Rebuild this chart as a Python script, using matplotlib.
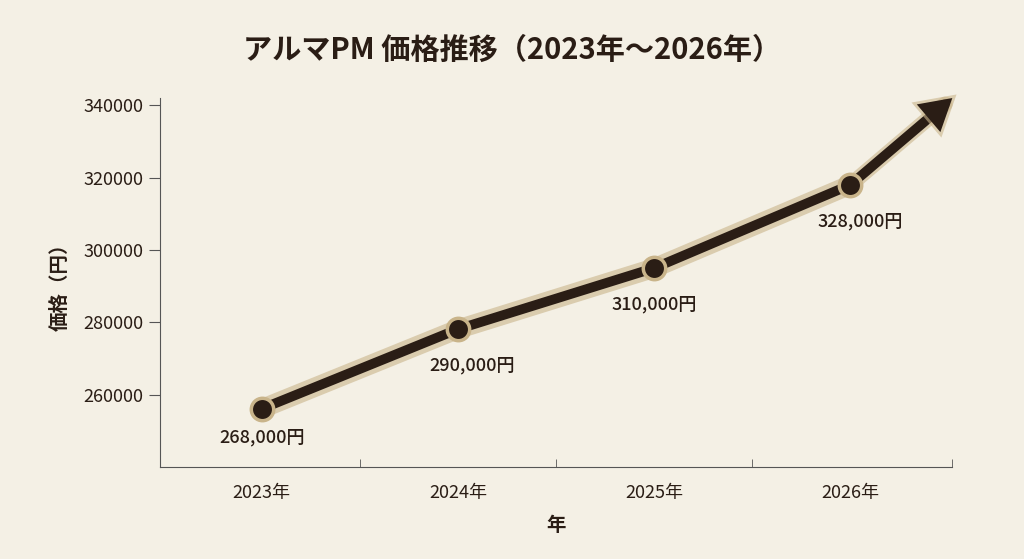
import matplotlib
matplotlib.use("Agg")
import matplotlib.pyplot as plt
import matplotlib.patheffects as pe

years = ["2023年", "2024年", "2025年", "2026年"]
values = [256100, 278100, 295000, 318000]
labels = ["268,000円", "290,000円", "310,000円", "328,000円"]
arrow_end = (3.52, 342000)

plt.rcParams['font.family'] = ['Noto Sans CJK JP', 'DejaVu Sans']
bg = "#f4f0e5"
dark = "#2a1d15"
glow = "#c9b48a"

fig = plt.figure(figsize=(10.24, 5.59), dpi=100, facecolor=bg)
ax = fig.add_axes([0.156, 0.1646, 0.774, 0.66], facecolor=bg)
x = list(range(len(years)))

ax.plot(x, values, color=glow, lw=14, alpha=0.6, solid_capstyle='round', zorder=2)
ax.plot(x, values, color=dark, lw=7, solid_capstyle='round', zorder=3)
ax.annotate("", xy=arrow_end, xytext=(x[-1], values[-1]),
            arrowprops=dict(arrowstyle="-|>,head_length=1.2,head_width=0.7", color=dark, lw=7,
                            shrinkA=0, shrinkB=0, joinstyle='miter',
                            path_effects=[pe.withStroke(linewidth=11, foreground=glow, alpha=0.6)]),
            zorder=3)
ax.scatter(x, values, s=260, color=dark, edgecolor=glow, linewidth=2.5, zorder=4)

offsets = [(0.0, -8000), (0.07, -10000), (0.0, -10000), (0.05, -10000)]
for xi, v, lab, (dx, dy) in zip(x, values, labels, offsets):
    ax.text(xi + dx, v + dy, lab, ha='center', va='center', fontsize=13, color=dark, fontweight='medium')

ax.set_xlim(-0.52, 3.52)
ax.set_ylim(240000, 342000)
ax.set_xticks(x)
ax.set_xticklabels(years, fontsize=13, color=dark)
ax.set_xticks([0.5, 1.5, 2.5, 3.52], minor=True)
ax.tick_params(axis='x', which='major', length=0, pad=12)
ax.tick_params(axis='x', which='minor', length=6, color="#555", direction='in')
ax.set_yticks([260000, 280000, 300000, 320000, 340000])
ax.tick_params(axis='y', labelsize=13, colors=dark, length=8, color="#555")
for s in ['top', 'right']:
    ax.spines[s].set_visible(False)
for s in ['left', 'bottom']:
    ax.spines[s].set_color("#555")
ax.set_xlabel("年", fontsize=14, color=dark, labelpad=10, fontweight='bold')
ax.set_ylabel("価格（円）", fontsize=14, color=dark, labelpad=10, fontweight='bold')
fig.text(0.5, 0.91, "アルマPM 価格推移（2023年〜2026年）", ha='center', va='center',
         fontsize=21, fontweight='bold', color=dark)
fig.savefig("out.png", dpi=100, facecolor=bg)
